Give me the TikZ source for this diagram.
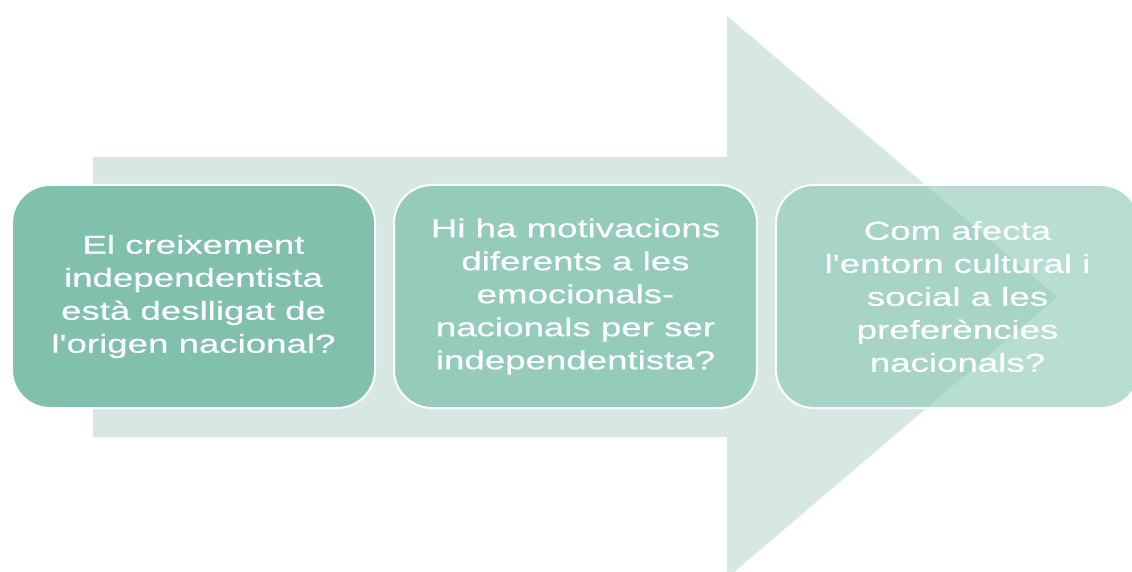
\documentclass[tikz,border=0pt]{standalone}
\usepackage{fontspec}
\newfontfamily\qfont[FakeStretch=1.41, FakeBold=0.4]{Liberation Sans}
\usepackage{tikz}
\definecolor{arrowgreen}{RGB}{215,232,226}
\definecolor{boxone}{RGB}{128,192,173}
\definecolor{boxtwo}{RGB}{148,203,186}
\definecolor{boxthree}{RGB}{137,198,182}
\tikzset{
  qbox/.style={draw=white, line width=2pt, rounded corners=38pt,
    minimum width=363pt, minimum height=223pt, align=center,
    text=white, font=\qfont\fontsize{26}{33}\selectfont}
}

\begin{document}
\begin{tikzpicture}[x=1pt, y=-1pt]
    \useasboundingbox (0,0) rectangle (1132,572);
    \fill [arrowgreen] (93,157) -- (727,157) -- (727,16) -- (1057,297)
        -- (727,578) -- (727,437) -- (93,437) -- cycle;
    \node [qbox, fill=boxone] (Q1) at (193.5,296.5)
        {El creixement\\independentista\\està deslligat de\\l'origen nacional?};
    \node [qbox, fill=boxtwo] (Q2) at (575.5,296.5)
        {Hi ha motivacions\\diferents a les\\emocionals-\\nacionals per ser\\independentista?};
    \node [qbox, fill=boxthree, fill opacity=0.6, text opacity=1] (Q3) at (957.5,296.5)
        {Com afecta\\l'entorn cultural i\\social a les\\preferències\\nacionals?};
\end{tikzpicture}
\end{document}
